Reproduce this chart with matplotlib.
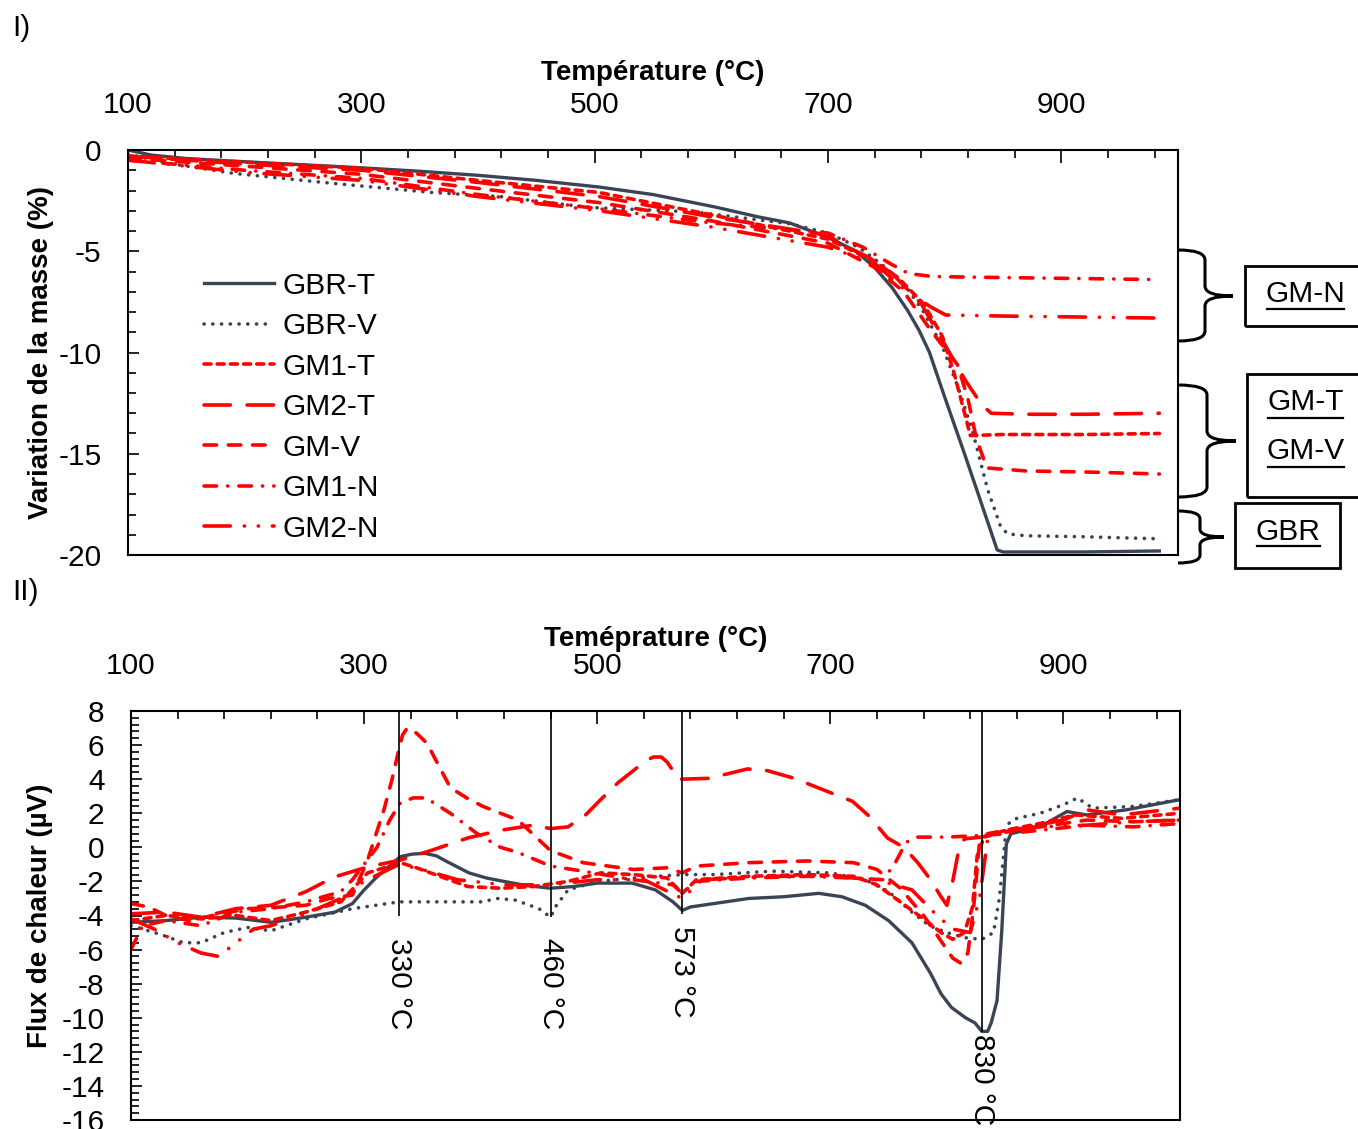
import numpy as np
import matplotlib
matplotlib.use('Agg')
import matplotlib.pyplot as plt
from matplotlib.path import Path
from matplotlib.patches import PathPatch, Rectangle
from matplotlib.lines import Line2D
from matplotlib.ticker import FixedLocator

plt.rcParams['font.family'] = ['Liberation Sans Narrow', 'Liberation Sans', 'DejaVu Sans']
plt.rcParams['lines.scale_dashes'] = False
plt.rcParams['axes.unicode_minus'] = False

# ---------------- DATA : TG (mass variation, %) ----------------
tg_gbr_t_T = [100, 120, 150, 200, 250, 300, 350, 400, 450, 504, 550, 602, 640, 667, 690, 705, 724, 740, 755, 768, 778, 787, 800, 817, 830, 840, 845, 850, 870, 920, 984]
tg_gbr_t_v = [0, -0.25, -0.42, -0.58, -0.73, -0.88, -1.05, -1.25, -1.5, -1.83, -2.2, -2.8, -3.3, -3.6, -4.1, -4.45, -5.0, -5.8, -6.8, -7.9, -8.9, -10.0, -12.2, -15.0, -17.2, -18.9, -19.75, -19.85, -19.85, -19.85, -19.8]

tg_gbr_v_T = [100, 133, 190, 276, 361, 419, 490, 504, 586, 667, 700, 726, 745, 765, 782, 798, 812, 824, 837, 848, 854, 870, 920, 984]
tg_gbr_v_v = [-0.2, -0.64, -1.15, -1.65, -2.1, -2.3, -2.8, -2.86, -3.06, -3.64, -4.1, -4.8, -5.6, -6.6, -8.0, -9.7, -11.8, -13.9, -16.8, -18.6, -18.96, -19.05, -19.1, -19.2]

tg_gm1_t_T = [100, 200, 300, 400, 504, 600, 700, 740, 760, 782, 798, 808, 818, 822, 850, 920, 984]
tg_gm1_t_v = [-0.3, -0.6, -0.9, -1.5, -2.1, -3.2, -4.4, -5.5, -6.3, -7.6, -9.2, -11.0, -13.2, -14.1, -14.05, -14.05, -14.0]

tg_gm2_t_T = [100, 200, 300, 400, 504, 600, 700, 713, 735, 755, 780, 798, 818, 832, 840, 870, 920, 984]
tg_gm2_t_v = [-0.3, -0.7, -1.0, -1.6, -2.3, -3.3, -4.2, -4.7, -5.3, -6.1, -7.6, -9.4, -11.4, -12.6, -13.0, -13.05, -13.05, -13.0]

tg_gm_v_T = [100, 200, 300, 400, 504, 600, 700, 740, 765, 788, 811, 820, 827, 836, 870, 920, 984]
tg_gm_v_v = [-0.4, -0.8, -1.2, -1.9, -2.6, -3.5, -4.6, -5.8, -7.0, -8.9, -10.6, -12.3, -14.2, -15.7, -15.85, -15.9, -16.0]

tg_gm1_n_T = [100, 200, 300, 400, 504, 600, 700, 730, 753, 769, 790, 850, 920, 984]
tg_gm1_n_v = [-0.5, -1.0, -1.4, -2.2, -2.9, -3.6, -4.1, -4.8, -5.6, -6.1, -6.25, -6.3, -6.35, -6.4]

tg_gm2_n_T = [100, 200, 300, 400, 504, 600, 700, 740, 766, 788, 801, 850, 920, 984]
tg_gm2_n_v = [-0.5, -1.1, -1.5, -2.3, -3.0, -3.8, -4.8, -5.6, -6.9, -7.75, -8.15, -8.2, -8.25, -8.3]

# ---------------- DATA : DSC (heat flow, µV) ----------------
dsc_gbr_t_T = [100, 130, 160, 190, 220, 250, 275, 290, 300, 310, 320, 331, 341, 352, 362, 370, 380, 390, 405, 420, 440, 460, 480, 500, 530, 550, 565, 573, 580, 600, 630, 660, 690, 710, 730, 750, 770, 786, 795, 804, 816, 824, 830, 835, 838, 843, 847, 851, 855, 867, 885, 903, 920, 954, 1000]
dsc_gbr_t_v = [-4.4, -4.3, -4.1, -4.15, -4.4, -4.1, -3.8, -3.3, -2.5, -1.8, -1.2, -0.55, -0.4, -0.35, -0.5, -0.8, -1.15, -1.5, -1.8, -2.0, -2.25, -2.4, -2.3, -2.1, -2.1, -2.5, -3.2, -3.7, -3.5, -3.3, -3.0, -2.9, -2.7, -2.9, -3.4, -4.3, -5.6, -7.4, -8.6, -9.4, -10.0, -10.3, -10.8, -10.8, -10.3, -9.0, -5.0, 0.2, 0.8, 1.0, 1.4, 2.1, 1.9, 2.2, 2.8]

dsc_gbr_v_T = [100, 125, 145, 160, 180, 200, 220, 250, 290, 330, 370, 400, 415, 430, 450, 460, 465, 475, 500, 540, 573, 600, 650, 700, 730, 750, 770, 785, 800, 815, 830, 840, 845, 850, 853, 860, 880, 900, 912, 925, 960, 1000]
dsc_gbr_v_v = [-4.6, -5.1, -5.6, -5.6, -5.0, -4.7, -4.9, -4.2, -3.6, -3.2, -3.2, -3.2, -3.0, -3.1, -3.6, -4.1, -3.4, -2.5, -2.0, -1.75, -1.6, -1.6, -1.4, -1.5, -1.9, -2.6, -3.8, -4.6, -5.0, -5.3, -5.4, -5.0, -3.0, 0.5, 1.4, 1.7, 2.0, 2.5, 2.9, 2.3, 2.4, 2.8]

dsc_gm1_t_T = [100, 130, 160, 190, 220, 250, 280, 303, 331, 345, 367, 389, 417, 445, 475, 503, 531, 560, 573, 585, 630, 680, 720, 740, 760, 780, 795, 805, 815, 822, 826, 832, 850, 880, 910, 950, 1000]
dsc_gm1_t_v = [-4.3, -4.0, -4.2, -4.0, -4.3, -3.8, -3.2, -1.5, -0.9, -1.2, -1.75, -2.3, -2.4, -2.3, -2.0, -1.5, -1.6, -1.8, -2.7, -1.9, -1.7, -1.6, -1.7, -2.2, -3.2, -4.2, -5.0, -5.4, -5.0, -3.5, -0.5, 0.6, 1.0, 1.4, 1.9, 1.7, 2.0]

dsc_gm2_t_T = [100, 130, 160, 190, 220, 250, 274, 303, 331, 359, 389, 417, 445, 460, 475, 490, 503, 518, 531, 540, 548, 555, 560, 565, 569, 573, 596, 629, 646, 669, 693, 719, 733, 749, 763, 775, 786, 795, 800, 805, 810, 815, 830, 845, 870, 900, 920, 950, 1000]
dsc_gm2_t_v = [-3.9, -3.8, -4.1, -3.6, -3.4, -2.6, -1.75, -1.15, -0.75, -0.15, 0.55, 1.0, 1.3, 1.1, 1.2, 1.9, 2.8, 3.8, 4.5, 5.0, 5.3, 5.3, 5.0, 4.5, 4.0, 4.0, 4.05, 4.6, 4.5, 4.05, 3.4, 2.7, 1.85, 0.55, 0.0, -0.9, -1.9, -2.9, -3.4, -2.0, -0.2, 0.5, 0.6, 0.8, 1.2, 1.6, 2.2, 1.9, 2.3]

dsc_gm_v_T = [100, 115, 130, 150, 170, 200, 230, 250, 270, 290, 303, 317, 324, 329, 333, 337, 345, 354, 364, 374, 388, 402, 432, 460, 488, 531, 560, 573, 585, 630, 680, 720, 740, 760, 780, 795, 805, 812, 818, 823, 828, 835, 850, 880, 920, 960, 1000]
dsc_gm_v_v = [-3.3, -3.5, -4.0, -4.3, -4.0, -3.6, -3.5, -3.4, -3.0, -2.8, -0.75, 2.2, 4.0, 5.5, 6.6, 7.0, 6.7, 6.1, 4.8, 3.5, 2.9, 2.4, 1.6, -0.2, -0.9, -1.3, -1.2, -1.5, -1.1, -0.9, -0.8, -0.9, -1.3, -2.4, -4.0, -5.5, -6.5, -6.8, -6.2, -3.5, 0.3, 0.8, 1.0, 1.2, 1.6, 1.5, 1.6]

dsc_gm1_n_T = [100, 110, 130, 160, 190, 220, 250, 280, 290, 311, 322, 331, 342, 353, 374, 397, 417, 432, 460, 488, 531, 565, 573, 585, 630, 680, 720, 745, 755, 765, 775, 800, 830, 850, 880, 920, 960, 1000]
dsc_gm1_n_v = [-6.0, -4.6, -4.3, -4.6, -3.8, -3.6, -3.2, -2.6, -1.9, 0.0, 1.6, 2.6, 2.9, 2.9, 2.0, 0.8, 0.0, -0.3, -1.1, -1.4, -1.9, -2.2, -2.7, -2.0, -1.8, -1.7, -1.8, -1.9, -1.0, 0.3, 0.6, 0.6, 0.7, 0.8, 1.0, 1.3, 1.2, 1.4]

dsc_gm2_n_T = [100, 120, 140, 160, 175, 190, 205, 220, 250, 280, 300, 330, 350, 380, 420, 460, 500, 540, 573, 590, 650, 700, 740, 770, 790, 805, 820, 828, 835, 850, 880, 920, 960, 1000]
dsc_gm2_n_v = [-4.2, -4.8, -5.6, -6.2, -6.4, -5.6, -4.8, -4.6, -3.9, -3.0, -2.0, -1.0, -1.3, -1.9, -2.2, -2.2, -1.9, -1.9, -3.0, -1.9, -1.7, -1.7, -1.9, -2.5, -3.9, -4.8, -5.0, -3.0, 0.5, 1.0, 1.2, 1.3, 1.5, 1.6]

series_names = ['GBR-T', 'GBR-V', 'GM1-T', 'GM2-T', 'GM-V', 'GM1-N', 'GM2-N']
tg_data = [(tg_gbr_t_T, tg_gbr_t_v), (tg_gbr_v_T, tg_gbr_v_v), (tg_gm1_t_T, tg_gm1_t_v),
           (tg_gm2_t_T, tg_gm2_t_v), (tg_gm_v_T, tg_gm_v_v), (tg_gm1_n_T, tg_gm1_n_v),
           (tg_gm2_n_T, tg_gm2_n_v)]
dsc_data = [(dsc_gbr_t_T, dsc_gbr_t_v), (dsc_gbr_v_T, dsc_gbr_v_v), (dsc_gm1_t_T, dsc_gm1_t_v),
            (dsc_gm2_t_T, dsc_gm2_t_v), (dsc_gm_v_T, dsc_gm_v_v), (dsc_gm1_n_T, dsc_gm1_n_v),
            (dsc_gm2_n_T, dsc_gm2_n_v)]

ref_temps = [330, 460, 573, 830]
ref_bottoms = [-4.0, -4.1, -3.9, -10.85]
ref_labels = ['330 °C', '460 °C', '573 °C', '830 °C']
ref_label_y = [-5.3, -5.3, -4.6, -10.95]

x_major = [100, 300, 500, 700, 900]

# ---------------- STYLES ----------------
DARK = '#3b4454'
RED = '#ff0000'
styles = [
    dict(color=DARK, ls='-', lw=2.4),
    dict(color=DARK, ls=(0, (0.1, 6.2)), lw=2.6, dash_capstyle='round'),
    dict(color=RED, ls=(0, (5, 4.5)), lw=2.6, dash_capstyle='round'),
    dict(color=RED, ls=(0, (19, 12)), lw=2.6, dash_capstyle='round'),
    dict(color=RED, ls=(0, (9, 8.5)), lw=2.6, dash_capstyle='round'),
    dict(color=RED, ls=(0, (9, 8, 0.1, 8)), lw=2.6, dash_capstyle='round'),
    dict(color=RED, ls=(0, (19, 10, 0.1, 10, 0.1, 10)), lw=2.6, dash_capstyle='round'),
]

W, H = 1358, 1129
fig = plt.figure(figsize=(W / 100, H / 100), dpi=100)
TICKFS = 21.5
LABFS = 20


def fx(px):
    return px / W


def fy(py):
    return 1 - py / H


def style_axes(ax):
    ax.set_xlim(100, 1000)
    ax.xaxis.tick_top()
    ax.xaxis.set_label_position('top')
    ax.xaxis.set_major_locator(FixedLocator(x_major))
    ax.xaxis.set_minor_locator(FixedLocator(np.arange(100, 1001, 40)))
    ax.tick_params(axis='x', which='major', direction='in', length=9, width=1.2,
                   labelsize=TICKFS, pad=22, top=True, bottom=False)
    ax.tick_params(axis='x', which='minor', direction='in', length=6, width=1.2,
                   top=True, bottom=False)
    ax.tick_params(axis='y', which='major', direction='in', length=8, width=1.2,
                   labelsize=TICKFS, pad=19, right=False)
    ax.tick_params(axis='y', which='minor', direction='in', length=6, width=1.2, right=False)
    for s in ax.spines.values():
        s.set_linewidth(1.5)


# ---------------- Panel I : TG ----------------
ax1 = fig.add_axes([fx(128), fy(555), fx(1178) - fx(128), fy(150) - fy(555)])
for (T, v), name, st in zip(tg_data, series_names, styles):
    ax1.plot(T, v, label=name, **st)
style_axes(ax1)
ax1.set_ylim(-20, 0)
ax1.yaxis.set_major_locator(FixedLocator([0, -5, -10, -15, -20]))
ax1.yaxis.set_minor_locator(FixedLocator(np.arange(-20, 0.1, 1)))
ax1.set_xlabel('Température (°C)', fontsize=LABFS, fontweight='bold')
ax1.xaxis.set_label_coords(0.5, 1.172)
ax1.set_ylabel('Variation de la masse (%)', fontsize=LABFS, fontweight='bold')
ax1.yaxis.set_label_coords(-0.07, 0.5)
ax1.legend(loc='upper left', bbox_to_anchor=(0.072, 0.70), frameon=False,
           fontsize=TICKFS, handlelength=2.35, handletextpad=0.3,
           labelspacing=0.42, borderpad=0, borderaxespad=0)

# ---------------- Panel II : DSC ----------------
ax2 = fig.add_axes([fx(131), fy(1120), fx(1180) - fx(131), fy(711) - fy(1120)])
for (T, v), name, st in zip(dsc_data, series_names, styles):
    ax2.plot(T, v, label=name, **st)
style_axes(ax2)
ax2.set_ylim(-16, 8)
ax2.yaxis.set_major_locator(FixedLocator(np.arange(-16, 8.1, 2)))
ax2.yaxis.set_minor_locator(FixedLocator(np.arange(-16, 8.01, 0.4)))
ax2.set_xlabel('Teméprature (°C)', fontsize=LABFS, fontweight='bold')
ax2.xaxis.set_label_coords(0.5, 1.16)
ax2.set_ylabel('Flux de chaleur (µV)', fontsize=LABFS, fontweight='bold')
ax2.yaxis.set_label_coords(-0.074, 0.5)
for t, b, lab, ly in zip(ref_temps, ref_bottoms, ref_labels, ref_label_y):
    ax2.vlines(t, b, 8, color='black', lw=1.2, zorder=5)
    ax2.text(t, ly, lab, rotation=-90, ha='center', va='top', fontsize=TICKFS,
             clip_on=False, zorder=6)

# ---------------- Annotations (braces + boxes) ----------------
def brace(x0, ytop, ybot, ymid, xv, xt, r=10):
    pts = [(x0, ytop), (xv, ytop), (xv, ytop + r),
           (xv, ymid - r), (xv, ymid), (xt, ymid),
           (xv, ymid), (xv, ymid + r),
           (xv, ybot - r), (xv, ybot), (x0, ybot)]
    codes = [Path.MOVETO, Path.CURVE3, Path.CURVE3,
             Path.LINETO, Path.CURVE3, Path.CURVE3,
             Path.CURVE3, Path.CURVE3,
             Path.LINETO, Path.CURVE3, Path.CURVE3]
    verts = [(fx(x), fy(y)) for x, y in pts]
    p = PathPatch(Path(verts, codes), fill=False, lw=2.2, color='black',
                  transform=fig.transFigure, clip_on=False)
    fig.add_artist(p)


brace(1178, 250, 341, 296, 1205, 1233)
brace(1178, 385, 497, 441, 1207, 1236)
brace(1178, 511, 563, 537, 1200, 1224, r=8)


def box(x0, y0, x1, y1):
    r = Rectangle((fx(x0), fy(y1)), fx(x1) - fx(x0), fy(y0) - fy(y1), fill=False,
                  lw=2.0, edgecolor='black', transform=fig.transFigure, clip_on=False)
    fig.add_artist(r)


box(1245, 266, 1362, 326)
box(1247, 374, 1362, 497)
box(1235, 503, 1340, 568)


def utext(xc, yc, s, x0, x1, yu):
    fig.text(fx(xc), fy(yc), s, ha='center', va='center', fontsize=TICKFS)
    fig.add_artist(Line2D([fx(x0), fx(x1)], [fy(yu), fy(yu)], color='black', lw=1.6,
                          transform=fig.transFigure))


utext(1305, 294, 'GM-N', 1267, 1344, 309)
utext(1306, 402, 'GM-T', 1268, 1343, 418)
utext(1306, 451, 'GM-V', 1268, 1344, 467)
utext(1288, 532, 'GBR', 1257, 1320, 546)

fig.text(fx(12), fy(28), 'I)', fontsize=TICKFS, ha='left', va='center')
fig.text(fx(12), fy(592), 'II)', fontsize=TICKFS, ha='left', va='center')

fig.savefig('out.png', dpi=100)
